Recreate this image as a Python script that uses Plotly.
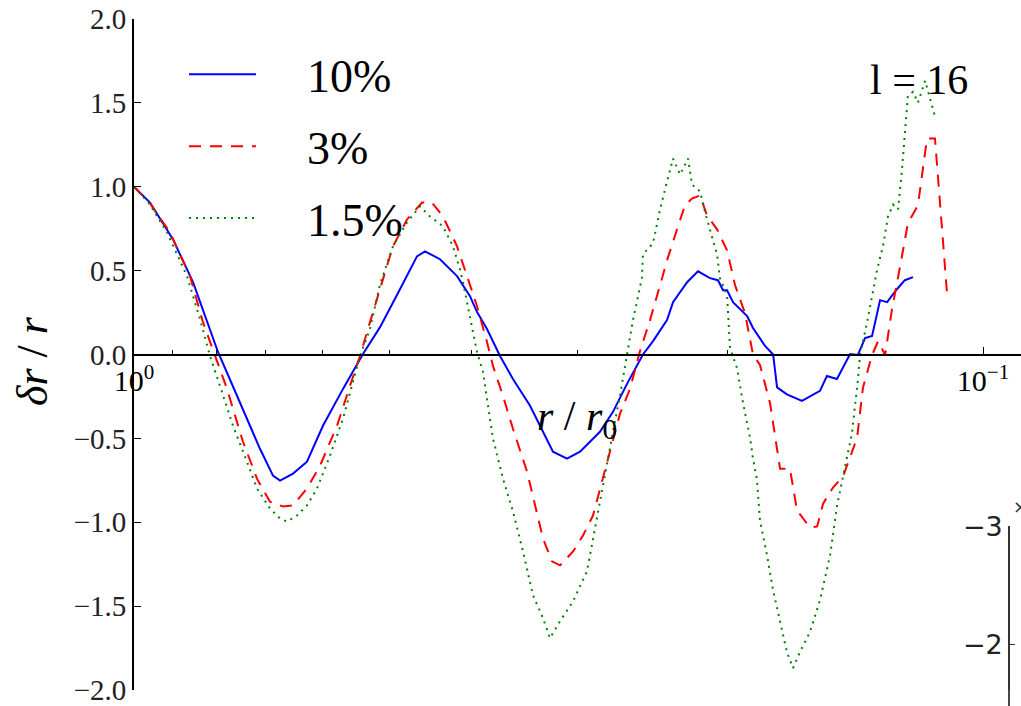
import plotly.graph_objects as go

# Radial perturbation profiles delta r / r versus r / r0 (l = 16)
r_10 = [1.0, 0.9575, 0.8996, 0.8521, 0.7963, 0.7501, 0.7106, 0.6859, 0.6730, 0.6497,
        0.6255, 0.5990, 0.5673, 0.5374, 0.5131, 0.4861, 0.4642, 0.4542, 0.4361, 0.4164,
        0.4020, 0.3944, 0.3839, 0.3706, 0.3578, 0.3416, 0.3325, 0.3210, 0.3090, 0.2983,
        0.2826, 0.2728, 0.2626, 0.2515, 0.2447, 0.2356, 0.2318, 0.2231, 0.2166, 0.2097,
        0.2052, 0.2024, 0.2002, 0.1970, 0.1896, 0.1866, 0.1806, 0.1767, 0.1748, 0.1702,
        0.1634, 0.1586, 0.1556, 0.1527, 0.1486, 0.1434, 0.1404, 0.1377, 0.1351, 0.1322,
        0.1297, 0.1263, 0.1236, 0.1209]
d_10 = [1.00, 0.906, 0.686, 0.431, 0.015, -0.282, -0.562, -0.722, -0.752, -0.710,
        -0.639, -0.425, -0.205, 0.003, 0.163, 0.389, 0.585, 0.615, 0.568, 0.467,
        0.348, 0.253, 0.152, -0.009, -0.146, -0.306, -0.425, -0.579, -0.621, -0.579,
        -0.461, -0.342, -0.175, 0.0, 0.080, 0.205, 0.312, 0.431, 0.496, 0.455,
        0.443, 0.383, 0.383, 0.312, 0.229, 0.158, 0.051, 0.0, -0.196, -0.238,
        -0.276, -0.238, -0.217, -0.128, -0.146, 0.003, -0.003, 0.098, 0.110, 0.324,
        0.312, 0.389, 0.443, 0.461]

r_3 = [1.0, 0.9575, 0.9070, 0.8591, 0.8294, 0.8028, 0.7771, 0.7441, 0.7164, 0.6916,
       0.6676, 0.6497, 0.6255, 0.6038, 0.5766, 0.5567, 0.5418, 0.5273, 0.5131, 0.4954,
       0.4769, 0.4579, 0.4457, 0.4326, 0.4164, 0.4053, 0.3944, 0.3839, 0.3777, 0.3676,
       0.3578, 0.3444, 0.3352, 0.3298, 0.3219, 0.3149, 0.3040, 0.2959, 0.2880, 0.2826,
       0.2750, 0.2677, 0.2605, 0.2535, 0.2467, 0.2401, 0.2350, 0.2293, 0.2244, 0.2202,
       0.2154, 0.2114, 0.2057, 0.2002, 0.1959, 0.1907, 0.1866, 0.1831, 0.1782, 0.1734,
       0.1688, 0.1656, 0.1599, 0.1568, 0.1543, 0.1502, 0.1462, 0.1407, 0.1385, 0.1351,
       0.1329, 0.1304, 0.1280, 0.1252, 0.1226, 0.1193, 0.1164, 0.1139, 0.1124, 0.1103]
d_3 = [1.00, 0.90, 0.728, 0.467, 0.193, -0.009, -0.205, -0.520, -0.740, -0.877,
       -0.906, -0.900, -0.799, -0.663, -0.425, -0.187, -0.009, 0.193, 0.389, 0.645,
       0.805, 0.906, 0.906, 0.823, 0.645, 0.467, 0.288, 0.074, -0.068, -0.247,
       -0.443, -0.698, -0.960, -1.097, -1.233, -1.257, -1.174, -1.079, -0.960, -0.799,
       -0.579, -0.354, -0.205, 0.021, 0.205, 0.413, 0.579, 0.746, 0.889, 0.930,
       0.948, 0.829, 0.746, 0.621, 0.413, 0.247, 0.0, -0.062, -0.288, -0.681,
       -0.681, -0.930, -1.031, -1.025, -0.889, -0.793, -0.728, -0.496, -0.199, -0.003,
       0.080, -0.003, 0.270, 0.526, 0.782, 0.889, 1.287, 1.287, 0.906, 0.377]

r_15 = [1.0, 0.9575, 0.9144, 0.8661, 0.8361, 0.8137, 0.7920, 0.7645, 0.7360, 0.7164,
        0.6916, 0.6730, 0.6604, 0.6427, 0.6255, 0.6088, 0.5877, 0.5673, 0.5522, 0.5418,
        0.5273, 0.5131, 0.4954, 0.4769, 0.4604, 0.4481, 0.4326, 0.4210, 0.4131, 0.4097,
        0.3988, 0.3944, 0.3881, 0.3839, 0.3777, 0.3676, 0.3578, 0.3482, 0.3389, 0.3298,
        0.3236, 0.3149, 0.3040, 0.2927, 0.2880, 0.2803, 0.2728, 0.2677, 0.2626, 0.2584,
        0.2522, 0.2515, 0.2447, 0.2401, 0.2356, 0.2318, 0.2274, 0.2225, 0.2202, 0.2154,
        0.2114, 0.2057, 0.2041, 0.2002, 0.1986, 0.1949, 0.1917, 0.1881, 0.1866, 0.1846,
        0.1831, 0.1796, 0.1767, 0.1734, 0.1702, 0.1674, 0.1643, 0.1599, 0.1556, 0.1514,
        0.1486, 0.1462, 0.1427, 0.1404, 0.1396, 0.1370, 0.1351, 0.1333, 0.1311, 0.1294,
        0.1276, 0.1259, 0.1246, 0.1236, 0.1226, 0.1209, 0.1193, 0.1170, 0.1155, 0.1139]
d_15 = [1.00, 0.894, 0.728, 0.467, 0.211, -0.009, -0.187, -0.425, -0.639, -0.799,
        -0.918, -0.978, -0.996, -0.960, -0.900, -0.799, -0.603, -0.383, -0.163, -0.009,
        0.152, 0.419, 0.645, 0.788, 0.883, 0.823, 0.764, 0.645, 0.508, 0.431,
        0.134, 0.015, -0.104, -0.264, -0.502, -0.740, -0.936, -1.174, -1.435, -1.572,
        -1.691, -1.590, -1.471, -1.293, -1.097, -0.782, -0.461, -0.247, -0.003, 0.205,
        0.455, 0.597, 0.663, 0.865, 1.031, 1.168, 1.073, 1.168, 1.013, 0.972,
        0.805, 0.597, 0.455, 0.354, 0.039, -0.080, -0.288, -0.496, -0.621, -0.746,
        -0.990, -1.198, -1.406, -1.590, -1.774, -1.869, -1.774, -1.655, -1.465, -1.198,
        -0.906, -0.728, -0.473, -0.152, -0.003, 0.187, 0.354, 0.502, 0.651, 0.823,
        0.894, 0.865, 1.097, 1.334, 1.542, 1.566, 1.501, 1.632, 1.524, 1.418]

series_names = ["10%", "3%", "1.5%"]
y_ticks = [-2.0, -1.5, -1.0, -0.5, 0.0, 0.5, 1.0, 1.5, 2.0]
y_ticktext = ["\u22122.0", "\u22121.5", "\u22121.0", "\u22120.5", "0.0", "0.5", "1.0", "1.5", "2.0"]
x_ticks = [1.0, 0.1]
x_ticktext = ["10<sup>0</sup>", "10<sup>\u22121</sup>"]
x_minor = [0.9, 0.8, 0.7, 0.6, 0.5, 0.4, 0.3, 0.2]
inset_ticks = [-3, -2]
inset_ticktext = ["\u22123", "\u22122"]

SERIF = "Liberation Serif"
W, H = 1021, 706
ML, MR, MT, MB = 134, 0, 19, 14
PW, PH = W - ML - MR, H - MT - MB
DECADE_PX = 849
PAD = "\u00a0" * 4  # gap between legend sample and label


def px_x(px):
    return (px - ML) / PW


def px_y(py):
    return (H - MB - py) / PH


fig = go.Figure()
fig.add_trace(go.Scatter(x=r_10, y=d_10, mode="lines", name=PAD + series_names[0],
                         legendgroup="a", line=dict(color="#0000ff", width=2)))
fig.add_trace(go.Scatter(x=r_3, y=d_3, mode="lines", name=PAD + series_names[1],
                         legendgroup="b", line=dict(color="#ff0000", width=2, dash="12px,9px")))
fig.add_trace(go.Scatter(x=r_15, y=d_15, mode="lines", name=PAD + series_names[2],
                         legendgroup="c", line=dict(color="#008000", width=2, dash="2px,5px")))
# empty trace so the small side axis gets drawn
fig.add_trace(go.Scatter(x=[], y=[], yaxis="y2", showlegend=False, hoverinfo="skip"))

fig.update_layout(
    width=W, height=H,
    margin=dict(l=ML, r=MR, t=MT, b=MB),
    paper_bgcolor="white", plot_bgcolor="rgba(0,0,0,0)",
    showlegend=True,
    legend=dict(x=px_x(184), y=px_y(38), xanchor="left", yanchor="top",
                font=dict(family=SERIF, size=46, color="black"),
                bgcolor="rgba(0,0,0,0)", itemwidth=67, tracegroupgap=9,
                traceorder="grouped"),
    xaxis=dict(type="log", range=[0, -PW / DECADE_PX], anchor="free", position=0.5,
               showgrid=False, zeroline=False, showline=True, linecolor="black", linewidth=1.8,
               tickmode="array", tickvals=x_ticks, ticktext=x_ticktext,
               ticks="inside", ticklen=7, tickwidth=1.2, tickcolor="black",
               ticklabeloverflow="allow",
               minor=dict(tickmode="array", tickvals=x_minor, ticks="inside", ticklen=4,
                          tickwidth=1, tickcolor="black", showgrid=False),
               tickfont=dict(family=SERIF, size=30, color="black")),
    yaxis=dict(range=[-2, 2], showgrid=False, zeroline=False, showline=True,
               linecolor="black", linewidth=1.8, tickmode="array", tickvals=y_ticks,
               ticktext=y_ticktext, ticks="inside", ticklen=7, tickwidth=1.2,
               tickcolor="black", ticklabeloverflow="allow",
               tickfont=dict(family=SERIF, size=29, color="#222")),
    yaxis2=dict(domain=[0, px_y(528)], anchor="free", position=px_x(1009),
                range=[-2 + (H - MB - 646) / 118, -3], showgrid=False, zeroline=False,
                showline=True, linecolor="#333", linewidth=1.8, tickmode="array",
                tickvals=inset_ticks, ticktext=inset_ticktext, ticks="inside", ticklen=5,
                tickcolor="#333", ticklabeloverflow="allow",
                tickfont=dict(family="DejaVu Sans", size=27, color="#222")),
)

# side axis continues past the bottom edge
fig.add_shape(type="line", xref="paper", yref="paper", x0=px_x(1009), x1=px_x(1009),
              y0=0, y1=px_y(H + 5), line=dict(color="#333", width=1.8))

fig.add_annotation(x=px_x(33), y=px_y(362), xref="paper", yref="paper",
                   xanchor="center", yanchor="middle",
                   text="<i>\u03b4r</i> / <i>r</i>", textangle=-90, showarrow=False,
                   font=dict(family=SERIF, size=44, color="black"))
fig.add_annotation(x=px_x(577), y=px_y(420), xref="paper", yref="paper",
                   xanchor="center", yanchor="middle",
                   text="<i>r</i> / <i>r</i><sub>0</sub>", showarrow=False,
                   font=dict(family=SERIF, size=42, color="black"))
fig.add_annotation(x=px_x(919), y=px_y(80), xref="paper", yref="paper",
                   xanchor="center", yanchor="middle",
                   text="l = 16", showarrow=False,
                   font=dict(family=SERIF, size=42, color="black"))
fig.add_annotation(x=px_x(1011), y=px_y(508), xref="paper", yref="paper",
                   xanchor="left", yanchor="middle",
                   text="\u00d7", showarrow=False,
                   font=dict(family="DejaVu Sans", size=18, color="#333"))

fig.write_html("out.html")
